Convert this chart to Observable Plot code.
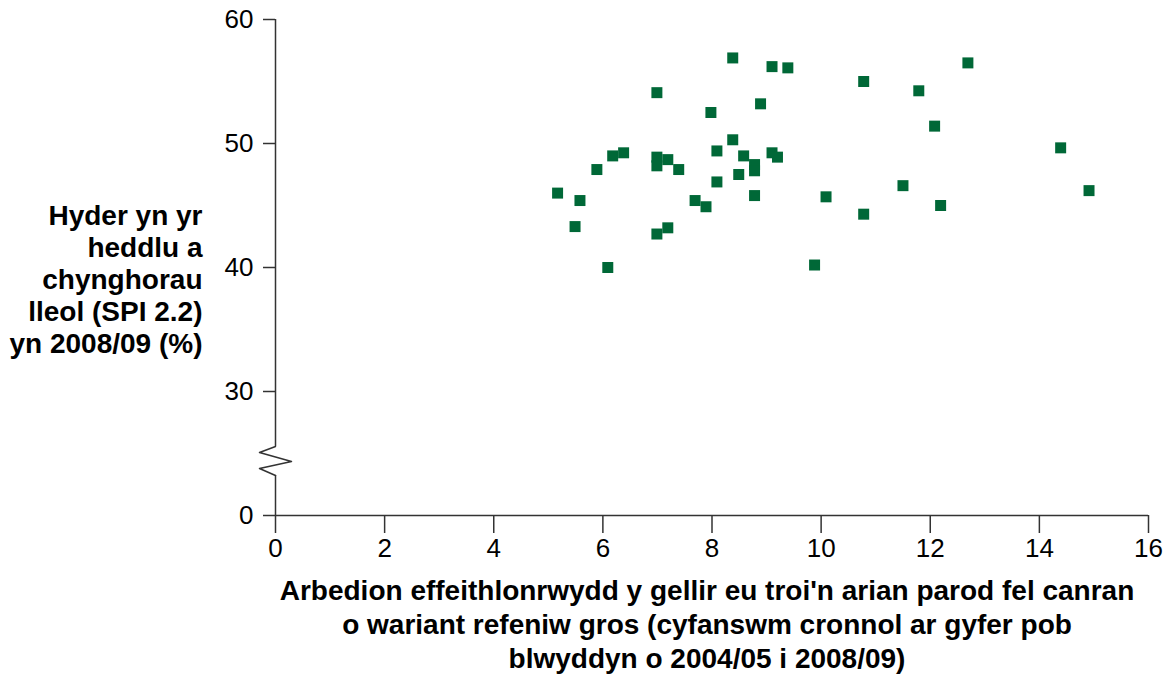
<!DOCTYPE html>
<html><head><meta charset="utf-8">
<script src="https://cdn.jsdelivr.net/npm/d3@7"></script>
<script src="https://cdn.jsdelivr.net/npm/@observablehq/plot@0.6"></script>
<style>
body{margin:0;background:#fff;}
#chart svg{font-family:"Liberation Sans",Arial,Helvetica,sans-serif;}
</style>
</head><body><div id="chart"></div>
<script>
// Cashable efficiency savings (% of gross revenue expenditure, cumulative 2004/05-2008/09)
const savingsPct = [8.38, 9.10, 9.39, 6.99, 8.89, 7.98, 8.38, 8.09, 6.18, 6.38,
  6.99, 6.99, 7.19, 7.39, 5.89, 8.58, 9.10, 9.20, 8.78, 8.78,
  8.49, 8.09, 5.17, 5.58, 7.69, 7.89, 8.78, 5.49, 7.19, 6.99,
  6.09, 9.88, 12.69, 10.78, 11.79, 12.08, 14.39, 11.50, 10.09, 10.78,
  12.19, 14.91];
// Confidence in police and local councils (SPI 2.2) 2008/09 (%)
const confidencePct = [56.9, 56.2, 56.1, 54.1, 53.2, 52.5, 50.3, 49.4, 49.0, 49.25,
  48.9, 48.2, 48.7, 47.9, 47.9, 49.0, 49.25, 48.9, 48.3, 47.8,
  47.5, 46.9, 46.0, 45.4, 45.4, 44.9, 45.8, 43.3, 43.2, 42.7,
  40.0, 40.2, 56.5, 55.0, 54.25, 51.4, 49.65, 46.6, 45.7, 44.3,
  45.0, 46.2];

// y axis is broken: the position 20 carries the label "0"
const yTicks = [20, 30, 40, 50, 60];
const yTickLabels = ["0", "30", "40", "50", "60"];
const xTicks = [0, 2, 4, 6, 8, 10, 12, 14, 16];
const xTickLabels = ["0", "2", "4", "6", "8", "10", "12", "14", "16"];
const breakX = [0, -0.293, 0.293, -0.293, 0];
const breakY = [25.56, 25.08, 24.35, 23.79, 23.23];

const yLabel = "Hyder yn yr\nheddlu a\nchynghorau\nlleol (SPI 2.2)\nyn 2008/09 (%)";
const xLabel = "Arbedion effeithlonrwydd y gellir eu troi'n arian parod fel canran\no wariant refeniw gros (cyfanswm cronnol ar gyfer pob\nblwyddyn o 2004/05 i 2008/09)";

const points = savingsPct.map((x, i) => ({x, y: confidencePct[i]}));
const yTickData = yTicks.map((v, i) => ({v, label: yTickLabels[i]}));
const xTickData = xTicks.map((v, i) => ({v, label: xTickLabels[i]}));
const axisColor = "#333";

const chart = Plot.plot({
  width: 1170,
  height: 680,
  marginLeft: 275,
  marginRight: 22,
  marginTop: 19,
  marginBottom: 165,
  style: {fontFamily: '"Liberation Sans", Arial, Helvetica, sans-serif', background: "#fff"},
  x: {domain: [0, 16]},
  y: {domain: [20, 60]},
  marks: [
    Plot.axisY({ticks: yTicks, tickFormat: () => "", tickSize: 12, stroke: axisColor, strokeWidth: 1.5, label: null}),
    Plot.axisX({ticks: xTicks, tickFormat: () => "", tickSize: 18, stroke: axisColor, strokeWidth: 1.5, label: null}),
    Plot.text(yTickData, {y: "v", text: "label", frameAnchor: "left", dx: -22, textAnchor: "end",
      fontSize: 26, fill: "#000"}),
    Plot.text(xTickData, {x: "v", text: "label", frameAnchor: "bottom", dy: 23, lineAnchor: "top",
      fontSize: 26, fill: "#000"}),
    Plot.ruleY([20], {stroke: axisColor, strokeWidth: 1.5}),
    Plot.ruleX([0], {y1: 60, y2: breakY[0], stroke: axisColor, strokeWidth: 1.5}),
    Plot.ruleX([0], {y1: breakY[breakY.length - 1], y2: 20, stroke: axisColor, strokeWidth: 1.5}),
    Plot.line(breakX.map((x, i) => ({x, y: breakY[i]})), {x: "x", y: "y", stroke: axisColor, strokeWidth: 1.5, clip: false}),
    Plot.dot(points, {x: "x", y: "y", symbol: "square", r: 6.2, fill: "#006837", stroke: "none"}),
    Plot.text([yLabel], {frameAnchor: "left", dx: -73, dy: 11, textAnchor: "end", lineAnchor: "middle",
      fontSize: 28, fontWeight: "bold", lineHeight: 1.14, fill: "#000"}),
    Plot.text([xLabel], {frameAnchor: "bottom", dx: -5, dy: 108, textAnchor: "middle", lineAnchor: "middle",
      fontSize: 28, fontWeight: "bold", lineHeight: 1.21, fill: "#000", letterSpacing: "1.1px"})
  ]
});
document.getElementById("chart").appendChild(chart);
</script>
</body></html>
